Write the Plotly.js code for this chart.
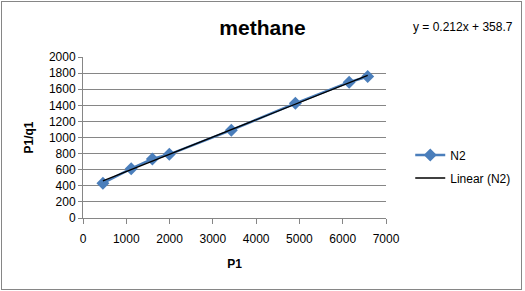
<!DOCTYPE html>
<html>
<head>
<meta charset="utf-8">
<script src="https://cdn.plot.ly/plotly-3.0.1.min.js"></script>
<style>
html,body{margin:0;padding:0;background:#fff;}
#wrap{position:relative;width:525px;height:291px;}
#chart{width:525px;height:291px;}
#frame{position:absolute;left:1px;top:1px;width:519px;height:287px;border:1px solid #868686;pointer-events:none;}
</style>
</head>
<body>
<div id="wrap"><div id="chart"></div><div id="frame"></div></div>
<script>
const seriesName = "N2";
const trendName = "Linear (N2)";
const p1 = [460, 1113, 1603, 1994, 3426, 4907, 6149, 6577];
const p1q1 = [433, 612, 733, 791, 1091, 1425, 1687, 1757];
const equationText = "y = 0.212x + 358.7";
const titleText = "methane";
const xTitle = "P1";
const yTitle = "P1/q1";

// least-squares linear fit from the data
const n = p1.length;
const mx = p1.reduce((a,b)=>a+b,0)/n;
const my = p1q1.reduce((a,b)=>a+b,0)/n;
let sxy=0, sxx=0;
for(let i=0;i<n;i++){sxy+=(p1[i]-mx)*(p1q1[i]-my); sxx+=(p1[i]-mx)**2;}
const slope = sxy/sxx, intercept = my - slope*mx;
const xmin = Math.min(...p1), xmax = Math.max(...p1);
const fitX = [xmin, xmax];
const fitY = fitX.map(x=>slope*x+intercept);

const font = "Liberation Sans, Arial, sans-serif";
const data = [
  {x:p1, y:p1q1, name:seriesName, type:'scatter', mode:'lines+markers', legendgroup:'a',
   line:{color:'#4a7ebb', width:2.5},
   marker:{symbol:'diamond', size:10, color:'#4a7ebb'}},
  {x:fitX, y:fitY, name:trendName, type:'scatter', mode:'lines', legendgroup:'b',
   line:{color:'#000000', width:1.3}}
];
const layout = {
  width:525, height:291,
  margin:{l:83, r:139, t:57, b:73, autoexpand:false},
  paper_bgcolor:'#ffffff', plot_bgcolor:'#ffffff',
  font:{family:font, size:12, color:'#000'},
  showlegend:true,
  title:{text:'<b>'+titleText+'</b>', font:{family:font, size:21, color:'#000'},
         x:0.5, xref:'container', y:0.905, yref:'container', xanchor:'center', yanchor:'middle'},
  xaxis:{range:[0,7000], dtick:1000, tick0:0, showgrid:false, zeroline:false,
         showline:true, linecolor:'#868686', linewidth:1, ticks:'outside', ticklen:5, tickcolor:'#868686',
         ticklabelstandoff:5,
         tickfont:{family:font, size:12, color:'#000'},
         title:{text:'<b>'+xTitle+'</b>', font:{family:font, size:12, color:'#000'}, standoff:14}},
  yaxis:{range:[0,2000], dtick:200, tick0:0, showgrid:true, gridcolor:'#868686', gridwidth:1,
         zeroline:false, showline:true, linecolor:'#868686', linewidth:1, ticks:'outside', ticklen:4, tickcolor:'#868686',
         tickfont:{family:font, size:12, color:'#000'},
         title:{text:'<b>'+yTitle+'</b>', font:{family:font, size:12, color:'#000'}, standoff:12}},
  legend:{x:1.08, y:0.32, xanchor:'left', yanchor:'middle', font:{family:font, size:12, color:'#000'},
          bgcolor:'rgba(0,0,0,0)', tracegroupgap:4, itemwidth:30},
  annotations:[{text:equationText, xref:'paper', yref:'paper', x:1.426, y:1.186, xanchor:'right', yanchor:'middle',
                showarrow:false, font:{family:font, size:12, color:'#000'}}]
};
Plotly.newPlot('chart', data, layout, {displayModeBar:false, staticPlot:true});
</script>
</body>
</html>
